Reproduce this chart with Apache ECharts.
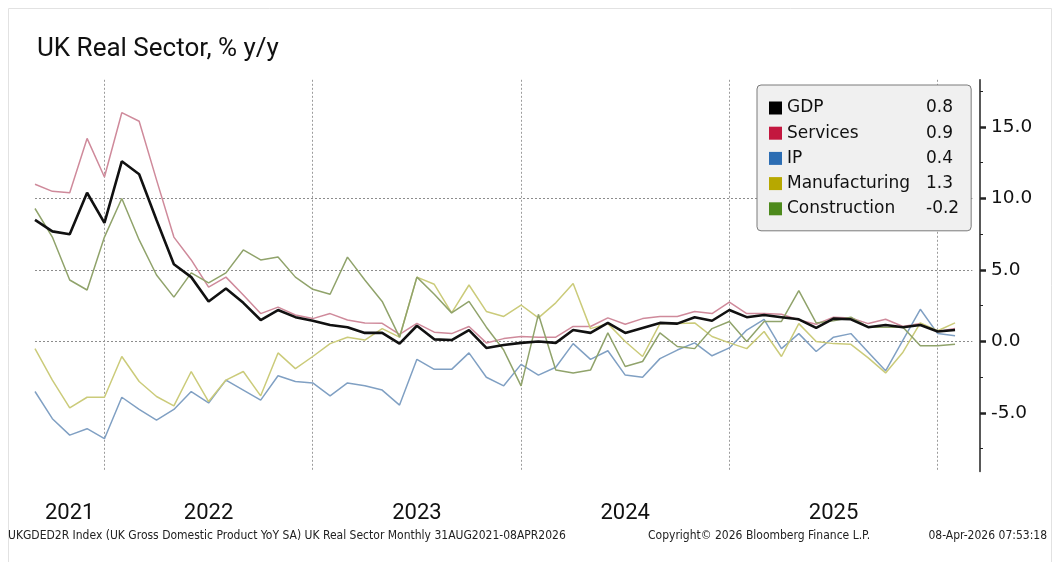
<!DOCTYPE html>
<html>
<head>
<meta charset="utf-8">
<title>UK Real Sector, % y/y</title>
<script src="https://cdn.jsdelivr.net/npm/echarts@6/dist/echarts.min.js"></script>
<style>
  html, body { margin: 0; padding: 0; background: #ffffff; }
  #chart { width: 1060px; height: 562px; }
</style>
</head>
<body>
<div id="chart"></div>
<script>
// Monthly categories, Aug 2021 .. Feb 2026 (last slot left empty as right-hand padding)
const firstYear = 2021, firstMonth = 8, monthCount = 55;
const categories = [];
for (let k = 0; k < monthCount; k++) {
  const m = firstMonth - 1 + k;
  categories.push(`${firstYear + Math.floor(m / 12)}-${String(m % 12 + 1).padStart(2, '0')}`);
}

// Year labels on the time axis and the month each one is centred on
const yearTicks = ['2021', '2022', '2023', '2024', '2025'];
const yearTickMonths = ['2021-10', '2022-06', '2023-06', '2024-06', '2025-06'];
// Year boundaries (vertical dotted lines)
const yearEndMonths = ['2021-12', '2022-12', '2023-12', '2024-12', '2025-12'];
// Value-axis labels
const yTicks = [-5, 0, 5, 10, 15];

// % y/y, Aug 2021 .. Jan 2026
const gdp = [8.5, 7.7, 7.5, 10.4, 8.3, 12.6, 11.7, 8.5, 5.4, 4.5, 2.8, 3.7,
  2.7, 1.5, 2.2, 1.7, 1.45, 1.15, 1.0, 0.6, 0.6, -0.15, 1.1, 0.15,
  0.1, 0.8, -0.45, -0.25, -0.1, 0.0, -0.1, 0.8, 0.6, 1.3, 0.6, 0.95,
  1.3, 1.25, 1.7, 1.45, 2.2, 1.7, 1.85, 1.7, 1.55, 0.95, 1.6, 1.55,
  1.0, 1.15, 1.0, 1.15, 0.7, 0.8];
const services = [11.0, 10.5, 10.4, 14.2, 11.5, 16.0, 15.4, 11.3, 7.3, 5.7, 3.8, 4.5,
  3.25, 1.95, 2.4, 1.85, 1.6, 1.95, 1.5, 1.3, 1.27, 0.5, 1.27, 0.65,
  0.55, 1.05, -0.1, 0.2, 0.35, 0.3, 0.3, 1.05, 1.05, 1.65, 1.2, 1.6,
  1.75, 1.75, 2.1, 1.95, 2.75, 1.95, 1.95, 1.9, 1.5, 1.2, 1.7, 1.65,
  1.25, 1.55, 1.05, 1.25, 0.7, 0.9];
const ip = [-3.5, -5.4, -6.55, -6.1, -6.8, -3.9, -4.75, -5.5, -4.75, -3.5, -4.3, -2.7,
  -3.4, -4.1, -2.4, -2.8, -2.9, -3.8, -2.9, -3.1, -3.4, -4.45, -1.25, -1.95,
  -1.95, -0.8, -2.5, -3.1, -1.6, -2.35, -1.8, -0.15, -1.25, -0.65, -2.35, -2.5,
  -1.2, -0.6, -0.1, -1.0, -0.45, 0.8, 1.55, -0.5, 0.55, -0.7, 0.3, 0.55,
  -0.75, -2.05, 0.1, 2.25, 0.55, 0.4];
const manufacturing = [-0.5, -2.7, -4.65, -3.9, -3.9, -1.05, -2.8, -3.85, -4.5, -2.1, -4.2, -2.7,
  -2.1, -3.8, -0.8, -1.9, -1.05, -0.15, 0.3, 0.1, 0.9, 0.3, 4.5, 4.0,
  2.0, 3.95, 2.1, 1.75, 2.55, 1.65, 2.7, 4.05, 0.9, 1.25, 0.0, -1.05,
  1.25, 1.25, 1.3, 0.35, -0.1, -0.5, 0.7, -1.05, 1.25, 0.0, -0.15, -0.2,
  -1.15, -2.2, -0.75, 1.3, 0.75, 1.3];
const construction = [9.3, 7.3, 4.3, 3.6, 7.3, 10.0, 7.1, 4.65, 3.1, 4.8, 4.1, 4.8,
  6.4, 5.7, 5.9, 4.5, 3.65, 3.3, 5.9, 4.3, 2.8, 0.3, 4.5, 3.3,
  2.0, 2.8, 1.0, -0.6, -3.1, 1.9, -2.0, -2.2, -2.0, 0.6, -1.75, -1.4,
  0.6, -0.35, -0.5, 0.9, 1.4, 0.0, 1.4, 1.4, 3.55, 1.3, 1.45, 1.7,
  1.0, 1.0, 1.0, -0.3, -0.3, -0.2];

const seriesDefs = [
  { name: 'GDP', data: gdp, swatch: '#000000', line: '#111111', width: 2.6 },
  { name: 'Services', data: services, swatch: '#c3173f', line: '#cf8a9b', width: 1.5 },
  { name: 'IP', data: ip, swatch: '#2c6db3', line: '#80a0c3', width: 1.5 },
  { name: 'Manufacturing', data: manufacturing, swatch: '#b7a800', line: '#cbcb7a', width: 1.5 },
  { name: 'Construction', data: construction, swatch: '#4d8a1c', line: '#90a36b', width: 1.5 }
];
const lastValue = {};
seriesDefs.forEach(s => { lastValue[s.name] = s.data[s.data.length - 1]; });

const chart = echarts.init(document.getElementById('chart'), null, { renderer: 'canvas' });

const legendFont = 'DejaVu Sans';
const footerFont = '12px "DejaVu Sans Condensed"';
const option = {
  backgroundColor: '#ffffff',
  animation: false,
  title: {
    text: 'UK Real Sector, % y/y',
    left: 32, top: 31,
    textStyle: { fontFamily: 'Roboto', fontSize: 26, fontWeight: 'normal', color: '#111111' }
  },
  grid: { left: 35, right: 87.6, top: 79.8, bottom: 90.4, containLabel: false },
  legend: {
    orient: 'vertical',
    left: 757, top: 85,
    padding: [13, 12, 12, 12],
    itemGap: 5.2,
    itemWidth: 13, itemHeight: 13,
    icon: 'rect',
    backgroundColor: '#f0f0f0',
    borderColor: '#7a7a7a', borderWidth: 1, borderRadius: 4,
    selectedMode: false,
    data: seriesDefs.map(s => ({ name: s.name, itemStyle: { color: s.swatch, borderWidth: 0 } })),
    formatter: name => `{n|${name}}{v|${lastValue[name].toFixed(1)}}`,
    textStyle: {
      fontFamily: legendFont, fontSize: 17, color: '#111111', lineHeight: 20,
      rich: {
        n: { fontFamily: legendFont, fontSize: 17, color: '#111111', width: 139, lineHeight: 20 },
        v: { fontFamily: legendFont, fontSize: 17, color: '#111111', lineHeight: 20 }
      }
    }
  },
  xAxis: {
    type: 'category',
    data: categories,
    boundaryGap: false,
    axisLine: { show: false },
    axisTick: { show: false },
    axisLabel: {
      interval: (i, v) => yearTickMonths.includes(v),
      formatter: v => yearTicks[yearTickMonths.indexOf(v)] || '',
      fontFamily: 'Roboto', fontSize: 22, color: '#111111', margin: 31
    },
    splitLine: {
      show: true,
      interval: (i, v) => yearEndMonths.includes(v),
      lineStyle: { color: '#9c9c9c', width: 1, type: [2, 2] }
    }
  },
  yAxis: {
    type: 'value',
    position: 'right',
    offset: 7.6,
    min: -9.1, max: 18.3,
    splitNumber: 5,
    axisLine: { show: true, lineStyle: { color: '#222222', width: 1.5 } },
    axisTick: { show: true, customValues: yTicks, length: 6, lineStyle: { color: '#222222', width: 2.5 } },
    minorTick: { show: true, splitNumber: 2, length: 3, lineStyle: { color: '#222222', width: 1 } },
    minorSplitLine: { show: false },
    axisLabel: {
      customValues: yTicks,
      formatter: v => v.toFixed(1),
      fontFamily: legendFont, fontSize: 18.5, color: '#111111', margin: 11
    },
    splitLine: {
      show: true, showMinLine: false, showMaxLine: false,
      lineStyle: { color: '#8c8c8c', width: 1, type: [2, 2] }
    }
  },
  series: seriesDefs.map(s => ({
    name: s.name,
    type: 'line',
    data: s.data,
    symbol: 'none',
    smooth: false,
    z: s.name === 'GDP' ? 5 : 2,
    itemStyle: { color: s.swatch },
    lineStyle: { color: s.line, width: s.width },
    emphasis: { disabled: true }
  })),
  graphic: [
    {
      type: 'rect', silent: true, z: -1,
      shape: { x: 8.5, y: 8.5, width: 1043, height: 560 },
      style: { fill: 'none', stroke: '#e2e2e2', lineWidth: 1 }
    },
    {
      type: 'text', left: 8, top: 530, silent: true,
      style: { text: 'UKGDED2R Index (UK Gross Domestic Product YoY SA) UK Real Sector Monthly 31AUG2021-08APR2026',
        font: footerFont, fill: '#222222' }
    },
    {
      type: 'text', left: 648, top: 530, silent: true,
      style: { text: 'Copyright\u00a9 2026 Bloomberg Finance L.P.', font: footerFont, fill: '#222222' }
    },
    {
      type: 'text', right: 13, top: 530, silent: true,
      style: { text: '08-Apr-2026 07:53:18', font: footerFont, fill: '#222222' }
    }
  ]
};
chart.setOption(option);
</script>
</body>
</html>
